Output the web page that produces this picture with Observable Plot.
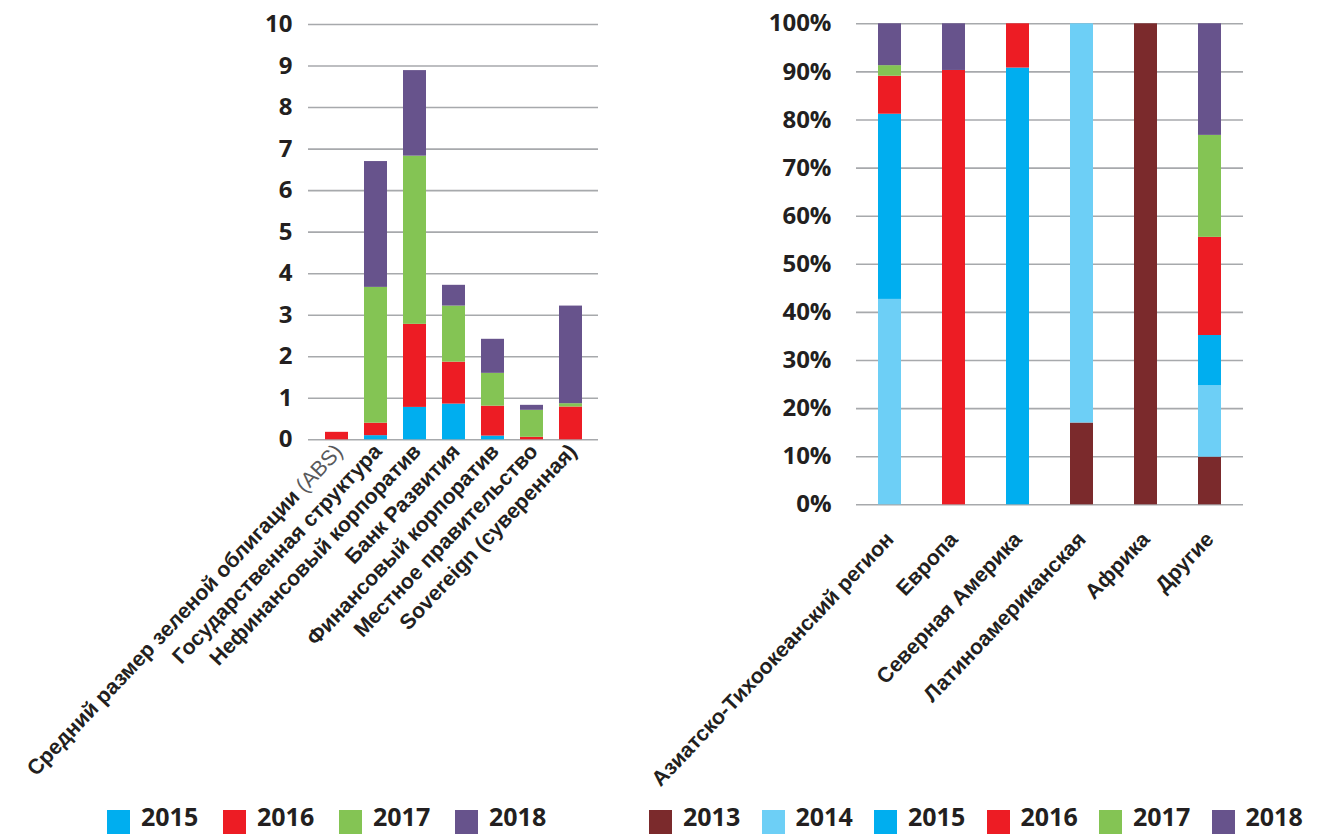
<!DOCTYPE html>
<html>
<head>
<meta charset="utf-8">
<script src="https://cdn.jsdelivr.net/npm/d3@7"></script>
<script src="https://cdn.jsdelivr.net/npm/@observablehq/plot@0.6"></script>
<style>
  html, body { margin: 0; padding: 0; background: #fff; width: 1326px; height: 834px; overflow: hidden; }
  #left, #right { position: absolute; top: 0; }
  #left { left: 0; }
  #right { left: 620px; }
  svg { overflow: visible; max-width: none !important; }
  .ylab text { font-family: "Open Sans", sans-serif; font-weight: 700; font-size: 24px; fill: #231f20; }
  .xlabL text, .xlabR text { font-family: "Liberation Sans", Arial, sans-serif; font-weight: 700; font-size: 21.3px; fill: #231f20; }
  .legend { position: absolute; top: 804px; display: flex; align-items: flex-start; font-family: "Open Sans", sans-serif; font-weight: 700; font-size: 25px; line-height: 25px; color: #231f20; }
  .legend .item { display: flex; align-items: flex-start; }
  .legend .sw { width: 23px; height: 24px; margin-right: 11px; margin-top: 6px; }
  .legend span { display: block; width: 58px; }
</style>
</head>
<body>
<div id="left"></div>
<div id="right"></div>
<div class="legend" id="legL" style="left:107px"></div>
<div class="legend" id="legR" style="left:649px"></div>
<script>
// ---- Left chart data ----
const leftCats = ["Средний размер зеленой облигации (ABS)", "Государственная структура", "Нефинансовый корпоратив", "Банк Развития", "Финансовый корпоратив", "Местное правительство", "Sovereign (суверенная)"];
const leftYears = ["2015", "2016", "2017", "2018"];
const l2015 = [0, 0.10, 0.78, 0.86, 0.09, 0, 0];
const l2016 = [0.18, 0.30, 2.00, 1.01, 0.72, 0.06, 0.79];
const l2017 = [0, 3.27, 4.05, 1.35, 0.79, 0.65, 0.08];
const l2018 = [0, 3.03, 2.06, 0.50, 0.82, 0.12, 2.35];
const leftTicks = [0, 1, 2, 3, 4, 5, 6, 7, 8, 9, 10];

// ---- Right chart data (percent) ----
const rightCats = ["Азиатско-Тихоокеанский регион", "Европа", "Северная Америка", "Латиноамериканская", "Африка", "Другие"];
const rightYears = ["2013", "2014", "2015", "2016", "2017", "2018"];
const r2013 = [0, 0, 0, 17.0, 100, 9.9];
const r2014 = [42.7, 0, 0, 83.0, 0, 14.9];
const r2015 = [38.5, 0, 90.8, 0, 0, 10.4];
const r2016 = [7.9, 90.3, 9.2, 0, 0, 20.4];
const r2017 = [2.2, 0, 0, 0, 0, 21.2];
const r2018 = [8.7, 9.7, 0, 0, 0, 23.2];
const rightTicks = [0, 10, 20, 30, 40, 50, 60, 70, 80, 90, 100];

const yearColors = {
  "2013": "#7b2a2c",
  "2014": "#6dcff6",
  "2015": "#00aeef",
  "2016": "#ed1c24",
  "2017": "#84c454",
  "2018": "#67538c"
};

const leftSeries = [l2015, l2016, l2017, l2018];
const leftRows = [];
leftYears.forEach((yr, j) => leftCats.forEach((c, i) => leftRows.push({cat: c, year: yr, value: leftSeries[j][i]})));

const rightSeries = [r2013, r2014, r2015, r2016, r2017, r2018];
const rightRows = [];
rightYears.forEach((yr, j) => rightCats.forEach((c, i) => rightRows.push({cat: c, year: yr, value: rightSeries[j][i]})));

const gridColor = "#a7a9ac";

const left = Plot.plot({
  width: 620,
  height: 790,
  marginLeft: 308,
  marginRight: 22,
  marginTop: 24,
  marginBottom: 350.7,
  style: {background: "transparent", overflow: "visible"},
  x: {domain: leftCats, paddingInner: 0.415, paddingOuter: 0.425, label: null},
  y: {domain: [0, 10], label: null},
  color: {domain: leftYears, range: leftYears.map(y => yearColors[y])},
  marks: [
    Plot.gridY(leftTicks, {stroke: gridColor, strokeOpacity: 1, strokeWidth: 1.6}),
    Plot.barY(leftRows, {x: "cat", y: "value", fill: "year"}),
    Plot.axisY(leftTicks, {tickSize: 0, tickPadding: 16, className: "ylab", label: null}),
    Plot.axisX({tickSize: 0, tickPadding: 6, tickRotate: -46.5, dx: 2, dy: 2, className: "xlabL", label: null})
  ]
});
document.getElementById("left").appendChild(left);

// "(ABS)" is set in a lighter regular weight in the original
d3.select(left).selectAll(".xlabL text").each(function() {
  const t = this.textContent;
  const k = t.indexOf("(ABS)");
  if (k >= 0) {
    const sel = d3.select(this);
    sel.text(null);
    sel.append("tspan").text(t.slice(0, k));
    sel.append("tspan").attr("font-weight", 400).attr("fill", "#58595b").style("font-weight", 400).style("fill", "#58595b").text("(ABS)");
  }
});

const right = Plot.plot({
  width: 706,
  height: 790,
  marginLeft: 236,
  marginRight: 83,
  marginTop: 23.3,
  marginBottom: 285.7,
  style: {background: "transparent", overflow: "visible"},
  x: {domain: rightCats, paddingInner: 0.644, paddingOuter: 0.345, label: null},
  y: {domain: [0, 100], label: null},
  color: {domain: rightYears, range: rightYears.map(y => yearColors[y])},
  marks: [
    Plot.gridY(rightTicks, {stroke: gridColor, strokeOpacity: 1, strokeWidth: 1.6}),
    Plot.barY(rightRows, {x: "cat", y: "value", fill: "year"}),
    Plot.axisY(rightTicks, {tickSize: 0, tickPadding: 25, tickFormat: d => d + "%", className: "ylab", label: null}),
    Plot.axisX({tickSize: 0, tickPadding: 6, tickRotate: -46.5, dx: 0, dy: 25, className: "xlabR", label: null})
  ]
});
document.getElementById("right").appendChild(right);

function legend(id, years, gap) {
  const el = document.getElementById(id);
  years.forEach((y, i) => {
    const item = document.createElement("div");
    item.className = "item";
    if (i > 0) item.style.marginLeft = gap + "px";
    const sw = document.createElement("div");
    sw.className = "sw";
    sw.style.background = yearColors[y];
    const t = document.createElement("span");
    t.textContent = y;
    item.appendChild(sw);
    item.appendChild(t);
    el.appendChild(item);
  });
}
legend("legL", leftYears, 24);
legend("legR", rightYears, 20.5);
</script>
</body>
</html>
